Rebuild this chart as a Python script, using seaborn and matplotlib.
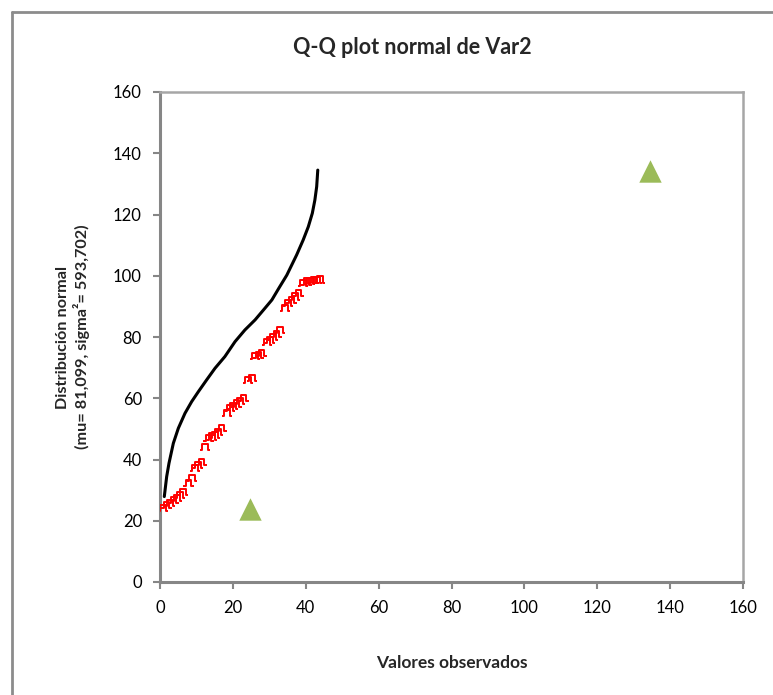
import numpy as np
import pandas as pd
import matplotlib
matplotlib.use("Agg")
import matplotlib.pyplot as plt
from matplotlib.path import Path
from matplotlib.lines import Line2D
import seaborn as sns

# ---- data ----
obs_x = [0.9, 1.8, 2.7, 3.7, 4.6, 5.5, 6.4, 7.8, 8.7, 9.6, 10.5, 11.4, 12.3, 13.3,
         14.2, 15.1, 16.0, 16.9, 18.3, 19.2, 20.1, 21.0, 22.0, 22.9, 24.2, 25.2,
         26.1, 27.0, 27.9, 29.3, 30.2, 31.1, 32.0, 32.9, 34.3, 35.2, 36.1, 37.0,
         38.0, 39.3, 40.2, 41.2, 42.1, 43.0, 43.9]
obs_y = [24.1, 25.1, 25.7, 26.8, 27.5, 28.4, 29.5, 32.2, 33.9, 37.1, 38.2, 39.3,
         44.2, 46.9, 47.5, 48.0, 49.1, 50.2, 55.1, 56.7, 57.5, 58.3, 59.1, 60.0,
         66.0, 66.5, 73.8, 74.1, 74.7, 78.5, 79.0, 80.1, 81.0, 82.3, 89.4, 91.0,
         92.1, 93.2, 94.3, 97.5, 98.1, 98.4, 98.6, 98.6, 98.8]
curve_x = [1.18, 1.83, 2.47, 3.66, 5.03, 6.86, 8.69, 10.5, 12.8, 15.1, 17.8, 20.6,
           23.3, 26.1, 28.8, 30.7, 32.6, 34.8, 37.5, 39.3, 40.7, 41.8, 42.5,
           43.0, 43.3]
curve_y = [27.9, 34.4, 38.8, 45.3, 50.2, 55.1, 58.9, 62.1, 66.0, 69.8, 73.6, 78.5,
           82.3, 85.6, 89.4, 92.1, 95.9, 100.2, 106.8, 111.7, 116.0, 120.4,
           124.7, 129.1, 134.5]
tri_x = [24.6, 134.6]
tri_y = [23.8, 134.2]
ticks = [0, 20, 40, 60, 80, 100, 120, 140, 160]

title = "Q-Q plot normal de Var2"
xlabel = "Valores observados"
ylabel = "Distribución normal\n(mu= 81,099, sigma²= 593,702)"

sns.set_theme(style="white")
plt.rcParams["font.family"] = ["Lato", "DejaVu Sans"]

fig = plt.figure(figsize=(7.73, 6.95), dpi=100)
ax = fig.add_axes([160 / 773, 113 / 695, 583 / 773, 490 / 695])

df_obs = pd.DataFrame({"x": obs_x, "y": obs_y})
df_curve = pd.DataFrame({"x": curve_x, "y": curve_y})
df_tri = pd.DataFrame({"x": tri_x, "y": tri_y})

sns.lineplot(data=df_curve, x="x", y="y", sort=False, color="black", lw=2.2, ax=ax,
             solid_joinstyle="round", solid_capstyle="round")

mark = Path([(-1.0, -0.6), (-0.55, -0.6), (-0.55, 0.6), (0.55, 0.6), (0.55, -0.6), (1.0, -0.6)],
            [Path.MOVETO] + [Path.LINETO] * 5)
ax.scatter(df_obs["x"], df_obs["y"], marker=mark, s=55, facecolors="none",
           edgecolors="#FF0000", linewidths=1.4, zorder=3)

sns.scatterplot(data=df_tri, x="x", y="y", marker="^", s=260, color="#9BBB59",
                edgecolor="#9BBB59", linewidth=0, ax=ax, zorder=4)

ax.set_xlim(0, 160)
ax.set_ylim(0, 160)
ax.set_xticks(ticks)
ax.set_yticks(ticks)
ax.set_xticklabels([str(t) for t in ticks], fontsize=12)
ax.set_yticklabels([str(t) for t in ticks], fontsize=12)
ax.tick_params(axis="both", direction="out", length=5, width=1.5, color="#868686",
               pad=8, left=True, bottom=True, labelcolor="black")

for side in ["left", "bottom"]:
    ax.spines[side].set_color("#868686")
    ax.spines[side].set_linewidth(2.2)
for side in ["top", "right"]:
    ax.spines[side].set_color("#A6A6A6")
    ax.spines[side].set_linewidth(1.8)
    ax.spines[side].set_visible(True)

ax.set_xlabel(xlabel, fontsize=12.5, fontweight="bold")
ax.set_ylabel(ylabel, fontsize=11.7, fontweight="bold")
ax.yaxis.set_label_coords(-0.12, 0.5)
ax.xaxis.set_label_coords(0.5, -0.15)

fig.text(412 / 773, 1 - 47 / 695, title, fontsize=15.5, fontweight="bold",
         ha="center", va="center")

# outer chart frame (left and top edges visible)
fig.add_artist(Line2D([12 / 773, 12 / 773], [0, 1 - 12 / 695], transform=fig.transFigure,
                      color="#8C8C8C", lw=2))
fig.add_artist(Line2D([12 / 773, 1], [1 - 12 / 695, 1 - 12 / 695], transform=fig.transFigure,
                      color="#8C8C8C", lw=2))

fig.savefig("out.png", dpi=100)
